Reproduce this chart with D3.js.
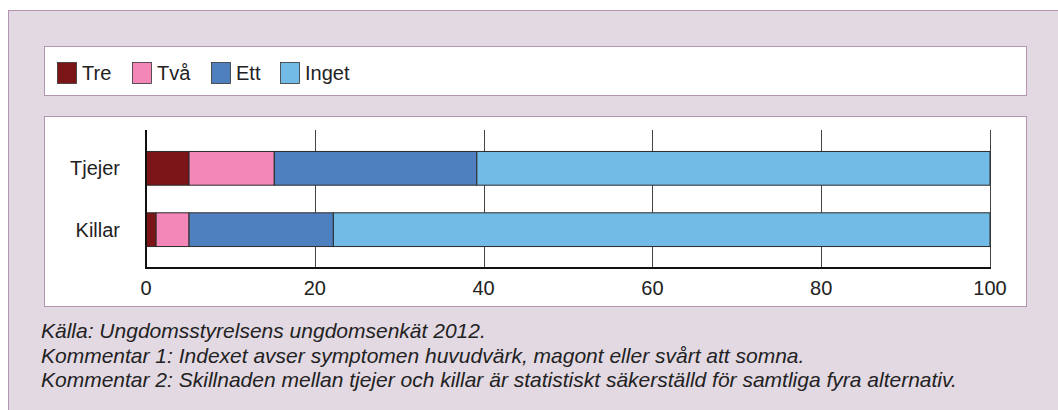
<!DOCTYPE html>
<html>
<head>
<meta charset="utf-8">
<script src="https://cdn.jsdelivr.net/npm/d3@7"></script>
<style>
  body { margin: 0; background: #fff; }
  svg { display: block; font-family: "Liberation Sans", Arial, sans-serif; }
</style>
</head>
<body>
<div id="vis"></div>
<script>
var width = 1058;
var height = 410;

// data
var categories = ["Tjejer", "Killar"];
var seriesNames = ["Tre", "Två", "Ett", "Inget"];
var seriesColors = ["#7b1517", "#f287b8", "#4e7fbf", "#72bbe6"];
var tre = [5.1, 1.2];
var tva = [10.1, 3.9];
var ett = [24.0, 17.1];
var inget = [60.8, 77.8];
var xTicks = [0, 20, 40, 60, 80, 100];
var notes = [
  "Källa: Ungdomsstyrelsens ungdomsenkät 2012.",
  "Kommentar 1: Indexet avser symptomen huvudvärk, magont eller svårt att somna.",
  "Kommentar 2: Skillnaden mellan tjejer och killar är statistiskt säkerställd för samtliga fyra alternativ."
];

var rows = categories.map(function(c, i) {
  return { cat: c, Tre: tre[i], "Två": tva[i], Ett: ett[i], Inget: inget[i] };
});

var svg = d3.select("#vis")
  .append("svg")
  .attr("width", width)
  .attr("height", height);

// outer lavender panel
svg.append("rect")
  .attr("x", 8.5).attr("y", 10.5)
  .attr("width", 1070).attr("height", 420)
  .attr("fill", "#e3d9e2")
  .attr("stroke", "#b495b1");

// legend box
svg.append("rect")
  .attr("x", 44.5).attr("y", 46.5)
  .attr("width", 982).attr("height", 49)
  .attr("fill", "#fff")
  .attr("stroke", "#b495b1");

// chart box
svg.append("rect")
  .attr("x", 44.5).attr("y", 116.5)
  .attr("width", 982).attr("height", 190)
  .attr("fill", "#fff")
  .attr("stroke", "#b495b1");

var legendX = [57, 132, 211, 280];
var legend = svg.append("g").attr("class", "legend");
seriesNames.forEach(function(name, i) {
  legend.append("rect")
    .attr("x", legendX[i] + 0.5).attr("y", 62.5)
    .attr("width", 19).attr("height", 21)
    .attr("fill", seriesColors[i])
    .attr("stroke", "#333")
    .attr("stroke-width", 0.8);
  legend.append("text")
    .attr("x", legendX[i] + 25)
    .attr("y", 80)
    .attr("font-size", 20)
    .attr("fill", "#222")
    .text(name);
});

var x = d3.scaleLinear().domain([0, 100]).range([146, 990]);
var y = d3.scaleBand().domain(categories).range([130, 268]).paddingInner(0.45).paddingOuter(0.35);

// gridlines
svg.append("g")
  .selectAll("line")
  .data(xTicks.slice(1))
  .enter()
  .append("line")
  .attr("x1", function(d) { return Math.round(x(d)) + 0.5; })
  .attr("x2", function(d) { return Math.round(x(d)) + 0.5; })
  .attr("y1", 130)
  .attr("y2", 268)
  .attr("stroke", "#444")
  .attr("stroke-width", 1);

var stack = d3.stack().keys(seriesNames)(rows);

svg.append("g")
  .selectAll("g")
  .data(stack)
  .enter()
  .append("g")
  .attr("fill", function(d, i) { return seriesColors[i]; })
  .selectAll("rect")
  .data(function(d) { return d; })
  .enter()
  .append("rect")
  .attr("x", function(d) { return x(d[0]); })
  .attr("width", function(d) { return x(d[1]) - x(d[0]); })
  .attr("y", function(d) { return y(d.data.cat); })
  .attr("height", y.bandwidth())
  .attr("stroke", "#2b2b2b")
  .attr("stroke-width", 1);

// axes
svg.append("line")
  .attr("x1", 146).attr("x2", 146)
  .attr("y1", 130).attr("y2", 269)
  .attr("stroke", "#111").attr("stroke-width", 2);
svg.append("line")
  .attr("x1", 145).attr("x2", 991)
  .attr("y1", 268).attr("y2", 268)
  .attr("stroke", "#111").attr("stroke-width", 2);

svg.append("g")
  .selectAll("text")
  .data(xTicks)
  .enter()
  .append("text")
  .attr("x", function(d) { return x(d); })
  .attr("y", 295)
  .attr("text-anchor", "middle")
  .attr("font-size", 20)
  .attr("fill", "#222")
  .text(function(d) { return d; });

svg.append("g")
  .selectAll("text")
  .data(categories)
  .enter()
  .append("text")
  .attr("x", 120)
  .attr("y", function(d) { return y(d) + y.bandwidth() / 2 + 7; })
  .attr("text-anchor", "end")
  .attr("font-size", 20)
  .attr("fill", "#222")
  .text(function(d) { return d; });

// footnotes
svg.append("g")
  .selectAll("text")
  .data(notes)
  .enter()
  .append("text")
  .attr("x", 41)
  .attr("y", function(d, i) { return 338 + i * 24.5; })
  .attr("font-size", 21)
  .attr("font-style", "italic")
  .attr("fill", "#222")
  .text(function(d) { return d; });
</script>
</body>
</html>
